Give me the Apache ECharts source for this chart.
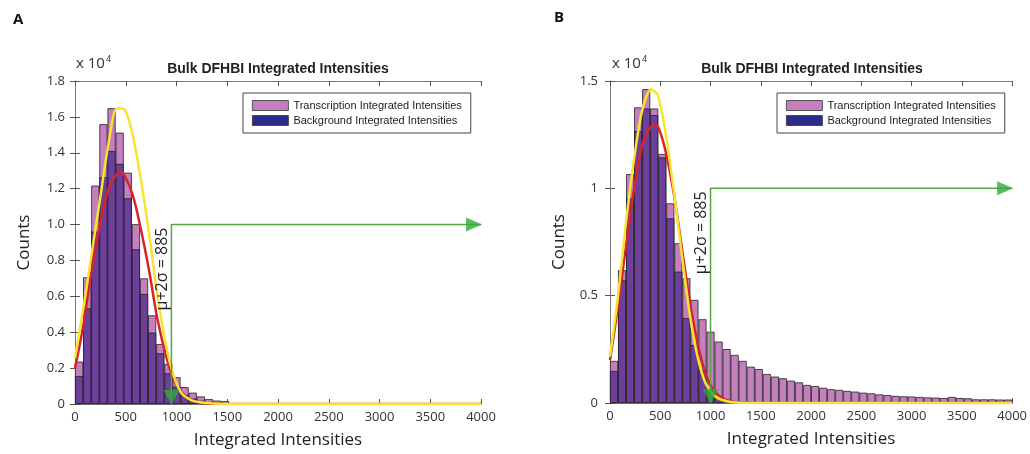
<!DOCTYPE html>
<html>
<head>
<meta charset="utf-8">
<script src="https://cdn.jsdelivr.net/npm/echarts@6/dist/echarts.min.js"></script>
<style>
  html, body { margin: 0; padding: 0; background: #fff; }
  #chart { width: 1030px; height: 454px; }
</style>
</head>
<body>
<div id="chart"></div>
<script>
// histogram bins (bin start, width 80)
const binStarts = [0, 80, 160, 240, 320, 400, 480, 560, 640, 720, 800, 880, 960, 1040, 1120, 1200, 1280, 1360, 1440, 1520,
  1600, 1680, 1760, 1840, 1920, 2000, 2080, 2160, 2240, 2320, 2400, 2480, 2560, 2640, 2720, 2800, 2880, 2960, 3040, 3120,
  3200, 3280, 3360, 3440, 3520, 3600, 3680, 3760, 3840, 3920]

// panel A counts
const transA = [2360, 7060, 12170, 15590, 16480, 15120, 12890, 10020, 7000, 4940, 3340, 2230, 1490, 940, 630, 420, 270, 190, 160, 40,
  30, 20, 0, 0, 0, 0, 0, 0, 0, 0, 0, 0, 0, 0, 0, 0, 0, 0, 0, 0, 0, 0, 0, 0, 0, 0, 0, 0, 0, 0]
const bgA = [1560, 5330, 9610, 12630, 14100, 13380, 11460, 8620, 6130, 3980, 2820, 1710, 970, 500, 300, 180, 100, 60, 30, 15,
  0, 0, 0, 0, 0, 0, 0, 0, 0, 0, 0, 0, 0, 0, 0, 0, 0, 0, 0, 0, 0, 0, 0, 0, 0, 0, 0, 0, 0, 0]
const redA = [[0, 1990], [82, 4400], [167, 7560], [253, 10160], [328, 11930], [411, 12820], [443, 12950], [493, 12670],
  [568, 11650], [647, 9790], [732, 7370], [811, 4770], [903, 2550], [969, 1430], [1050, 650], [1150, 200], [1250, 50],
  [1400, 0], [4000, 0]]
const yellowA = [[0, 2550], [82, 5330], [167, 8490], [253, 11650], [328, 14440], [411, 16480], [493, 16390], [568, 15000],
  [647, 12580], [732, 9420], [811, 6080], [903, 3100], [969, 1620], [1050, 600], [1150, 200], [1300, 50], [1500, 0], [4000, 0]]

// panel B counts
const transB = [1960, 6190, 10660, 13770, 14620, 13720, 11600, 9300, 7440, 5810, 4800, 3900, 3320, 2860, 2510, 2240, 1960, 1690, 1580, 1350,
  1230, 1150, 1040, 960, 840, 790, 710, 640, 610, 560, 530, 480, 450, 400, 370, 330, 310, 300, 280, 260,
  250, 230, 280, 230, 220, 170, 170, 170, 160, 160]
const bgB = [1490, 5730, 9530, 12670, 13720, 13410, 11440, 8600, 6120, 3950, 2700, 1540, 600, 220, 80, 30, 10, 0, 0, 0,
  0, 0, 0, 0, 0, 0, 0, 0, 0, 0, 0, 0, 0, 0, 0, 0, 0, 0, 0, 0, 0, 0, 0, 0, 0, 0, 0, 0, 0, 0]
const redB = [[0, 2000], [79, 4490], [158, 7280], [238, 9920], [317, 11940], [396, 12790], [445, 12950], [485, 12790],
  [554, 11710], [634, 9770], [713, 7280], [792, 4800], [871, 2780], [950, 1380], [1030, 600], [1110, 250], [1200, 80],
  [1300, 20], [1450, 0], [4000, 0]]
const yellowB = [[0, 2160], [79, 4950], [158, 8370], [238, 11320], [317, 13570], [407, 14610], [475, 14350],
  [554, 12560], [634, 9920], [713, 6970], [792, 4180], [871, 2160], [950, 920], [1030, 370], [1110, 150], [1200, 50],
  [1300, 10], [1500, 0], [4000, 0]]

// threshold markers
const thrA = 950
const thrB = 1000
const arrowY = 10000
const thrLabel = 'μ+2σ = 885'

const xTickLabels = ['0', '500', '1000', '1500', '2000', '2500', '3000', '3500', '4000']
const yTickLabelsA = ['0', '0.2', '0.4', '0.6', '0.8', '1.0', '1.2', '1.4', '1.6', '1.8']
const yTickLabelsB = ['0', '0.5', '1', '1.5']

const nameT = 'Transcription Integrated Intensities'
const nameB = 'Background Integrated Intensities'
const pink = '#c67fbe'
const purple = '#6c3f9d'
const navy = '#2d2b8a'
const green = '#55a644'
const frame = '#7a7a7a'
const tickCol = '#555'
const font = 'Open Sans'

const myChart = echarts.init(document.getElementById('chart'))

function valueX (grid, pos, labels) {
  return {
    type: 'value', gridIndex: grid, position: pos, min: 0, max: 4000, interval: 500,
    axisLine: { show: true, lineStyle: { color: frame, width: 1 } },
    axisTick: { show: true, inside: true, length: 5, lineStyle: { color: tickCol } },
    axisLabel: labels ? { color: '#333', fontSize: 13, fontFamily: font, margin: 7,
      formatter: (v, i) => xTickLabels[i] } : { show: false },
    splitLine: { show: false },
    name: labels ? 'Integrated Intensities' : '',
    nameLocation: 'middle', nameGap: 28,
    nameTextStyle: { fontSize: 17, color: '#222', fontFamily: font }
  }
}

function valueY (grid, pos, max, interval, labels, margin) {
  return {
    type: 'value', gridIndex: grid, position: pos, min: 0, max: max, interval: interval,
    axisLine: { show: true, lineStyle: { color: frame, width: 1 } },
    axisTick: { show: true, inside: true, length: 5, lineStyle: { color: tickCol } },
    axisLabel: labels ? { color: '#333', fontSize: 13, fontFamily: font, margin: margin,
      formatter: (v, i) => labels[i] } : { show: false },
    splitLine: { show: false },
    name: labels ? 'Counts' : '',
    nameLocation: 'middle', nameGap: 42,
    nameTextStyle: { fontSize: 17, color: '#222', fontFamily: font }
  }
}

function legendAt (left, top) {
  return {
    left: left, top: top, orient: 'vertical', selectedMode: false,
    itemWidth: 36, itemHeight: 10, itemGap: 2, padding: [6, 9, 6, 9],
    borderColor: '#444', borderWidth: 1, backgroundColor: '#fff',
    textStyle: { fontSize: 11, fontFamily: 'Liberation Sans', color: '#222', lineHeight: 13 },
    data: [
      { name: nameT, icon: 'rect', itemStyle: { color: pink, borderColor: '#333', borderWidth: 0.8 } },
      { name: nameB, icon: 'rect', itemStyle: { color: navy, borderColor: '#333', borderWidth: 0.8 } }
    ]
  }
}

function panelSeries (xCat, xVal, y, trans, bg, red, yellow, thr) {
  return [
    { name: nameT, type: 'bar', xAxisIndex: xCat, yAxisIndex: y, data: trans, barCategoryGap: '0%', barGap: '-100%',
      itemStyle: { color: pink, borderColor: '#222', borderWidth: 0.8 }, silent: true },
    { name: nameB, type: 'bar', xAxisIndex: xCat, yAxisIndex: y, data: bg, barCategoryGap: '0%', barGap: '-100%',
      itemStyle: { color: purple, borderColor: '#222', borderWidth: 0.8 }, silent: true },
    { type: 'line', xAxisIndex: xVal, yAxisIndex: y, data: red, smooth: 0.4, showSymbol: false,
      lineStyle: { color: '#d8232c', width: 2.5 }, z: 3 },
    { type: 'line', xAxisIndex: xVal, yAxisIndex: y, data: yellow, smooth: 0.25, showSymbol: false,
      lineStyle: { color: '#f6e431', width: 2.5 }, z: 4 },
    { type: 'line', xAxisIndex: xVal, yAxisIndex: y, data: [[thr, 0], [thr, arrowY], [4000, arrowY]], showSymbol: false,
      lineStyle: { color: green, width: 1.5 }, z: 5 },
    { type: 'scatter', xAxisIndex: xVal, yAxisIndex: y, data: [[thr, 0]], symbol: 'triangle', symbolRotate: 180,
      symbolSize: [16, 14], symbolOffset: [0, -7], itemStyle: { color: '#2eab3a' }, z: 6 },
    { type: 'scatter', xAxisIndex: xVal, yAxisIndex: y, data: [[4000, arrowY]], symbol: 'triangle', symbolRotate: -90,
      symbolSize: [14, 16], symbolOffset: [-7, 0], itemStyle: { color: '#2eab3a' }, z: 6 }
  ]
}

const powerRich = {
  a: { fontSize: 15, fontFamily: font, fontWeight: 'normal', color: '#333' },
  b: { fontSize: 9, fontFamily: font, fontWeight: 'normal', color: '#333', verticalAlign: 'top', padding: [0, 0, 8, 1] }
}

const option = {
  backgroundColor: '#fff',
  animation: false,
  title: [
    { text: 'A', left: 13, top: 12, padding: 0, textStyle: { fontSize: 15, fontWeight: 'bold', fontFamily: font, color: '#111' } },
    { text: 'B', left: 554, top: 10, padding: 0, textStyle: { fontSize: 15, fontWeight: 'bold', fontFamily: font, color: '#111' } },
    { text: 'Bulk DFHBI Integrated Intensities', left: 278, textAlign: 'center', top: 62, padding: 0,
      textStyle: { fontSize: 14, fontWeight: 'bold', fontFamily: 'Liberation Sans', color: '#222' } },
    { text: 'Bulk DFHBI Integrated Intensities', left: 812, textAlign: 'center', top: 62, padding: 0,
      textStyle: { fontSize: 14, fontWeight: 'bold', fontFamily: 'Liberation Sans', color: '#222' } },
    { text: '{a|x 10}{b|4}', left: 76, top: 55, padding: 0, textStyle: { fontWeight: 'normal', rich: powerRich } },
    { text: '{a|x 10}{b|4}', left: 612, top: 55, padding: 0, textStyle: { fontWeight: 'normal', rich: powerRich } }
  ],
  legend: [legendAt(243, 93), legendAt(777, 93)],
  grid: [
    { left: 75, top: 81, width: 406, height: 323 },
    { left: 610, top: 81, width: 404, height: 322 }
  ],
  xAxis: [
    { type: 'category', gridIndex: 0, position: 'bottom', data: binStarts, show: false },
    valueX(0, 'bottom', true),
    valueX(0, 'top', false),
    { type: 'category', gridIndex: 1, position: 'bottom', data: binStarts, show: false },
    valueX(1, 'bottom', true),
    valueX(1, 'top', false)
  ],
  yAxis: [
    valueY(0, 'left', 18000, 2000, yTickLabelsA, 10),
    valueY(0, 'right', 18000, 2000, null, 0),
    valueY(1, 'left', 15000, 5000, yTickLabelsB, 12),
    valueY(1, 'right', 15000, 5000, null, 0)
  ],
  series: [].concat(
    panelSeries(0, 1, 0, transA, bgA, redA, yellowA, thrA),
    panelSeries(3, 4, 2, transB, bgB, redB, yellowB, thrB)
  )
}

myChart.setOption(option)

// rotated threshold labels next to the green lines
const pA = myChart.convertToPixel({ seriesIndex: 4 }, [thrA, arrowY])
const pB = myChart.convertToPixel({ seriesIndex: 11 }, [thrB, arrowY])
const labelStyle = { text: thrLabel, fontSize: 16, fontFamily: font, fill: '#222', align: 'right', verticalAlign: 'bottom' }
myChart.setOption({
  graphic: [
    { type: 'text', x: pA[0] - 1, y: pA[1] + 3, rotation: Math.PI / 2, style: labelStyle, z: 10 },
    { type: 'text', x: pB[0] - 1, y: pB[1] + 3, rotation: Math.PI / 2, style: labelStyle, z: 10 }
  ]
})
</script>
</body>
</html>
